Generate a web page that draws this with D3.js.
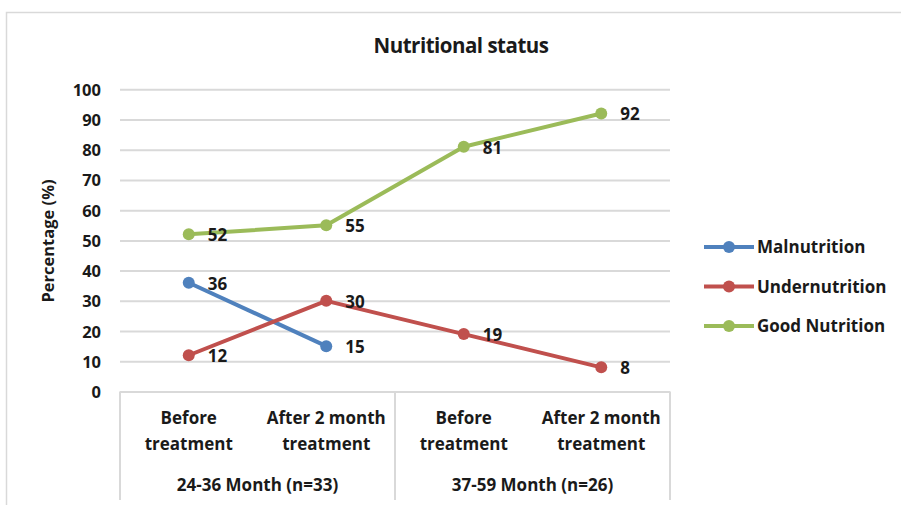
<!DOCTYPE html>
<html><head><meta charset="utf-8">
<script src="https://cdn.jsdelivr.net/npm/d3@7"></script>
<style>body{margin:0;background:#fff}svg{display:block}text{font-family:"Open Sans",sans-serif;fill:#1a1a1a}</style>
</head><body><svg id="c" width="901" height="505"></svg>
<script>
const categories = ["Before|treatment","After 2 month|treatment","Before|treatment","After 2 month|treatment"];
const groups = ["24-36 Month (n=33)","37-59 Month (n=26)"];
const seriesNames = ["Malnutrition","Undernutrition","Good Nutrition"];
const malnutrition = [36,15,null,null];
const undernutrition = [12,30,19,8];
const goodNutrition = [52,55,81,92];
const yTicks = [0,10,20,30,40,50,60,70,80,90,100];
const colors = ["#4F81BD","#C0504D","#9BBB59"];

const series = [malnutrition, undernutrition, goodNutrition];
const svg = d3.select("#c");
const L=120,R=670,T=89.3,B=391.5;
const FS=17;
const x = d3.scaleBand().domain(d3.range(categories.length)).range([L,R]);
const y = d3.scaleLinear().domain([0,100]).range([B,T]);

svg.append("rect").attr("x",6.5).attr("y",12.5).attr("width",900).attr("height",500).attr("fill","none").attr("stroke","#d9d9d9").attr("stroke-width",1.5);

svg.append("text").attr("x",461).attr("y",53).attr("text-anchor","middle").attr("font-size",20.5).attr("font-weight","bold").attr("letter-spacing",-0.5).text("Nutritional status");

const yAxis = d3.axisLeft(y).tickValues(yTicks).tickSize(-(R-L)).tickPadding(19);
const ga = svg.append("g").attr("transform",`translate(${L},0)`).call(yAxis);
ga.select(".domain").remove();
ga.selectAll(".tick line").attr("stroke","#d9d9d9").attr("stroke-width",2);
ga.selectAll(".tick text").attr("font-size",16.5).attr("font-weight","bold").attr("fill","#1a1a1a").attr("dy","0.36em").style("font-family","'Open Sans',sans-serif");

svg.append("text").attr("transform","translate(54,241) rotate(-90)").attr("text-anchor","middle").attr("font-size",16.5).attr("font-weight","bold").text("Percentage (%)");

const boxB = 500;
[L, x(2), R].forEach(xx=>{
  svg.append("line").attr("x1",xx).attr("x2",xx).attr("y1",B).attr("y2",boxB).attr("stroke","#d9d9d9").attr("stroke-width",2);
});
categories.forEach((c,i)=>{
  c.split("|").forEach((t,j)=>{
    svg.append("text").attr("x",x(i)+x.bandwidth()/2).attr("y",424+j*25.5).attr("text-anchor","middle").attr("font-size",FS).attr("font-weight","bold").text(t);
  });
});
groups.forEach((g,i)=>{
  svg.append("text").attr("x",(x(i*2)+x(i*2+1)+x.bandwidth())/2).attr("y",491).attr("text-anchor","middle").attr("font-size",FS).attr("font-weight","bold").text(g);
});

const line = d3.line().defined(d=>d!=null).x((d,i)=>x(i)+x.bandwidth()/2).y(d=>y(d));
series.forEach((s,k)=>{
  const g = svg.append("g");
  g.append("path").datum(s).attr("d",line).attr("fill","none").attr("stroke",colors[k]).attr("stroke-width",4).attr("stroke-linejoin","round");
  s.forEach((v,i)=>{
    if(v==null) return;
    g.append("circle").attr("cx",x(i)+x.bandwidth()/2).attr("cy",y(v)).attr("r",6).attr("fill",colors[k]);
  });
});
series.forEach((s,k)=>{
  s.forEach((v,i)=>{
    if(v==null) return;
    svg.append("text").attr("x",x(i)+x.bandwidth()/2+19).attr("y",y(v)+7).attr("font-size",FS).attr("font-weight","bold").text(v);
  });
});

seriesNames.forEach((n,k)=>{
  const ly = 247+k*39.5;
  svg.append("line").attr("x1",704).attr("x2",754).attr("y1",ly).attr("y2",ly).attr("stroke",colors[k]).attr("stroke-width",4);
  svg.append("circle").attr("cx",729).attr("cy",ly).attr("r",6).attr("fill",colors[k]);
  svg.append("text").attr("x",757).attr("y",ly+6).attr("font-size",FS).attr("font-weight","bold").text(n);
});
</script></body></html>
